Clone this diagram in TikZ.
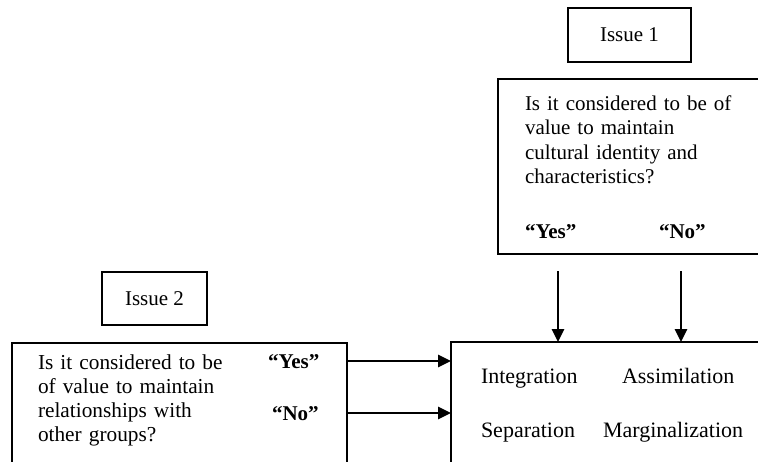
\documentclass[tikz,border=0pt]{standalone}
\usepackage{fontspec}
\setmainfont{Liberation Serif}
\usetikzlibrary{arrows.meta}
\begin{document}
\begin{tikzpicture}[x=1pt,y=-1pt,
  every node/.style={font=\fontsize{21}{24.5}\selectfont},
  box/.style={draw=black,line width=1.4pt,inner sep=0pt,outer sep=0pt},
  txt/.style={inner sep=0pt,outer sep=0pt,anchor=base west},
  big/.style={font=\fontsize{22}{26}\selectfont},
  para/.style={txt,text width=#1,align=left},
  arr/.style={line width=2.8pt,-{Triangle[length=13pt,width=12pt]}}]
\useasboundingbox (0,0) rectangle (758,461);
\clip (0,0) rectangle (758,461);
% boxes
\node[box,minimum width=123pt,minimum height=54pt] (iss1) at (629.5,35) {Issue 1};
\node[box,anchor=north west,minimum width=290pt,minimum height=175pt] (q1) at (498,79) {};
\node[box,minimum width=105pt,minimum height=53pt] (iss2) at (154.5,298.5) {Issue 2};
\node[box,anchor=north west,minimum width=335pt,minimum height=160pt] (q2) at (12,343) {};
\node[box,anchor=north west,minimum width=340pt,minimum height=160pt] (res) at (451,342) {};
% texts
\node[para=240pt] (q1t) at (525,110) {Is it considered to be of\\ value to maintain\\ cultural identity and\\ characteristics?};
\node[txt] (yes1) at (525,238) {\bfseries “Yes”};
\node[txt] (no1) at (659,238) {\bfseries “No”};
\node[para=230pt,font=\fontsize{21.3}{24}\selectfont] (q2t) at (38,369) {Is it considered to be\\ of value to maintain\\ relationships with\\ other groups?};
\node[txt] (yes2) at (268,368) {\bfseries “Yes”};
\node[txt] (no2) at (272,420) {\bfseries “No”};
\node[txt,big] (int) at (481,383) {Integration};
\node[txt,big] (ass) at (622,383) {Assimilation};
\node[txt,big] (sep) at (481,437) {Separation};
\node[txt,big] (mar) at (603,437) {Marginalization};
% connectors
\coordinate (d1) at (558,271);
\coordinate (d2) at (681,271);
\coordinate (h1) at (0,361);
\coordinate (h2) at (0,413);
\draw[arr] (d1) -- (d1 |- res.north);
\draw[arr] (d2) -- (d2 |- res.north);
\draw[arr] (q2.east |- h1) -- (res.west |- h1);
\draw[arr] (q2.east |- h2) -- (res.west |- h2);
\end{tikzpicture}
\end{document}
